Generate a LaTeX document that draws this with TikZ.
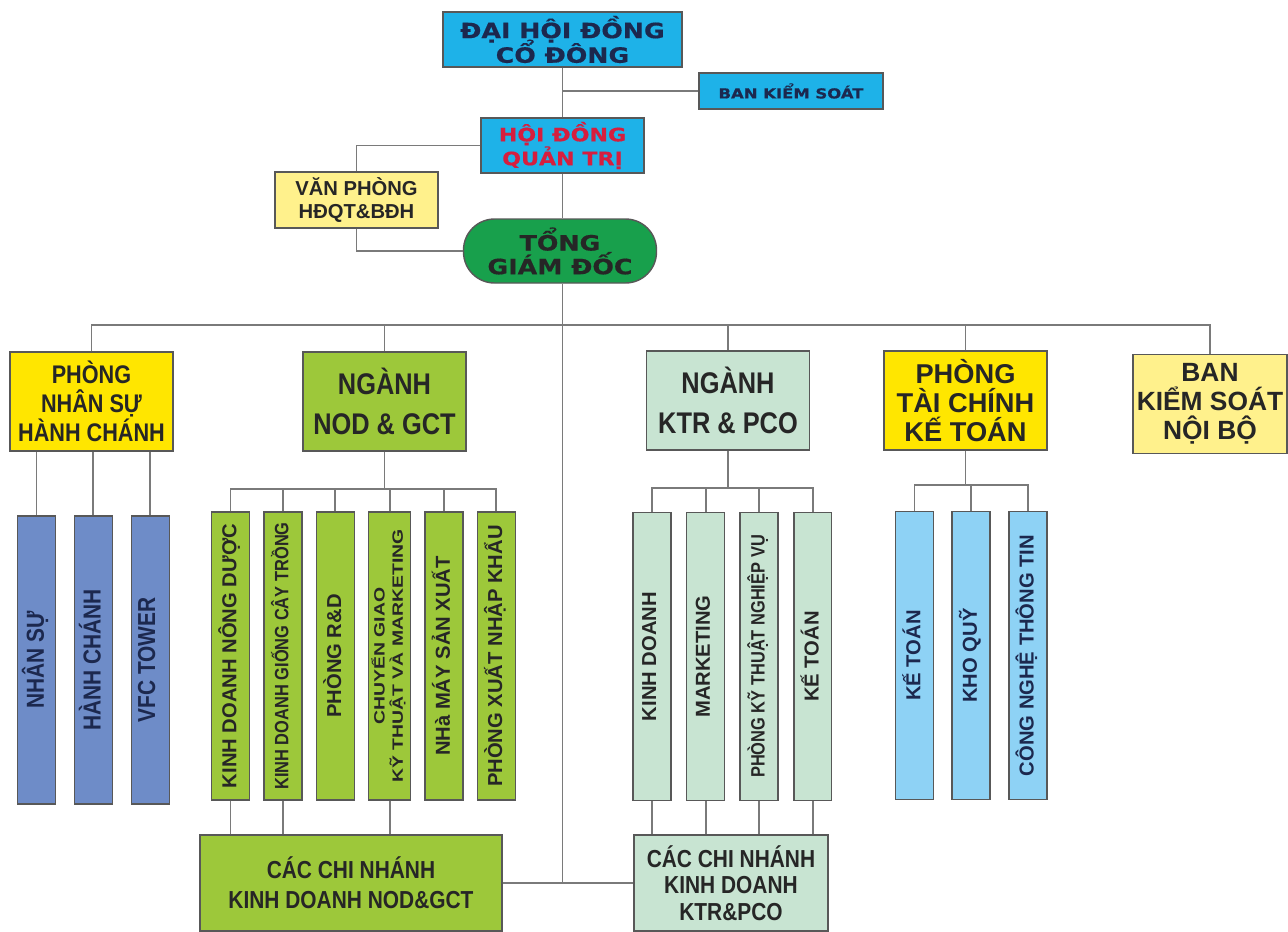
\documentclass[tikz,border=0pt]{standalone}
\usepackage{fontspec}
\usepackage{graphicx}
\setmainfont{Liberation Sans}
\newfontfamily\blackfont{DejaVu Sans}[FakeStretch=1.2, FakeBold=0.6]
\newfontfamily\narrowfont{Liberation Sans}[FakeStretch=0.85]
\newfontfamily\widefont{Liberation Sans}[FakeStretch=1.3]
\usetikzlibrary{
  positioning,  % Function "of" (e.g. [right=of x])
}
\definecolor{linegray}{RGB}{122,122,122}
\definecolor{edgegray}{RGB}{88,88,88}
\definecolor{cyanbox}{RGB}{30,178,232}
\definecolor{tgdgreen}{RGB}{24,160,76}
\definecolor{paleyellow}{RGB}{255,241,140}
\definecolor{brightyellow}{RGB}{255,230,0}
\definecolor{nodgreen}{RGB}{157,200,58}
\definecolor{ktrgreen}{RGB}{200,228,210}
\definecolor{steelblue}{RGB}{110,140,200}
\definecolor{skyblue}{RGB}{142,210,245}
\definecolor{navytext}{RGB}{28,40,78}
\definecolor{redtext}{RGB}{214,30,62}
\newcommand{\vlabel}[1]{\rotatebox{90}{\begin{tabular}{@{}c@{}}#1\end{tabular}}}
\tikzset{
  link/.style={
    draw=linegray,
    line width=1.1pt
  },
  my box/.style={
    draw=edgegray,
    line width=0.8pt,
    align=center,
    inner sep=0.5mm,
    text=black!85
  },
  tight lines/.style={
    execute at begin node={\lineskiplimit=-20pt}  % stacked accents, keep baselines
  },
  my top/.style={
    my box,
    tight lines,
    fill=cyanbox,
    text=navytext
  },
  my dept/.style={
    my box,
    minimum width=3.26cm,
    minimum height=1.98cm,
    font=\narrowfont\bfseries\fontsize{14.5}{16.5}\selectfont
  },
  my kid/.style={
    my box,
    minimum width=0.76cm,
    minimum height=5.76cm,
    font=\bfseries\fontsize{11.5}{12}\selectfont
  },
  my kid narrow/.style={
    my kid,
    font=\narrowfont\bfseries\fontsize{11}{12}\selectfont
  },
  my branch/.style={
    my box,
    minimum height=1.92cm,
    font=\narrowfont\bfseries\fontsize{14}{15}\selectfont
  }
}
\begin{document}
\begin{tikzpicture}[x=0.02cm, y=-0.02cm]
\useasboundingbox (0,0) rectangle (1288,931);
\coordinate (bus)    at (0,325);
\coordinate (nodbus) at (0,489);
\coordinate (ktrbus) at (0,488);
\coordinate (ptcbus) at (0,485);

% board and management
\node[my top, minimum width=4.78cm, minimum height=1.1cm,
      font=\blackfont\bfseries\fontsize{12}{14}\selectfont]   (dhd)  at (562.5,39.5)  {ĐẠI HỘI ĐỒNG\\CỔ ĐÔNG};
\node[my top, minimum width=3.68cm, minimum height=0.72cm,
      font=\blackfont\bfseries\fontsize{7.8}{9}\selectfont]   (bks)  at (791,91)      {BAN KIỂM SOÁT};
\node[my top, minimum width=3.26cm, minimum height=1.1cm, text=redtext,
      font=\blackfont\bfseries\fontsize{10.5}{13.6}\selectfont] (hdqt) at (562.5,145.5) {HỘI ĐỒNG\\QUẢN TRỊ};
\node[my box, fill=paleyellow, minimum width=3.26cm, minimum height=1.12cm,
      font=\bfseries\fontsize{11.5}{13}\selectfont]            (vp)   at (356.5,200)   {VĂN PHÒNG\\HĐQT\&BĐH};
\node[my box, tight lines, fill=tgdgreen, rounded corners=0.62cm, minimum width=3.86cm, minimum height=1.28cm,
      font=\blackfont\bfseries\fontsize{12}{13.5}\selectfont]   (tgd)  at (560,251)     {TỔNG\\GIÁM ĐỐC};

% departments
\node[my dept, fill=brightyellow]                       (pns)   at (91.5,401.5)  {PHÒNG\\NHÂN SỰ\\HÀNH CHÁNH};
\node[my dept, fill=nodgreen,
      font=\narrowfont\bfseries\fontsize{17}{22.5}\selectfont] (nod) at (384.5,401.5) {NGÀNH\\NOD \& GCT};
\node[my dept, fill=ktrgreen,
      font=\narrowfont\bfseries\fontsize{17}{22.5}\selectfont] (ktr) at (728,400.5)   {NGÀNH\\KTR \& PCO};
\node[my dept, fill=brightyellow,
      font=\bfseries\fontsize{15.5}{16.5}\selectfont]   (ptc)   at (965.5,400.5) {PHÒNG\\TÀI CHÍNH\\KẾ TOÁN};
\node[my dept, fill=paleyellow, minimum width=3.08cm,
      font=\bfseries\fontsize{15}{16.5}\selectfont]     (bksnb) at (1210,404)    {BAN\\KIỂM SOÁT\\NỘI BỘ};

% units under each department
\node[my kid, fill=steelblue, text=navytext, font=\narrowfont\bfseries\fontsize{14}{14}\selectfont]
      (pns1) at (36.5,660) {\vlabel{NHÂN SỰ}};
\node[my kid, fill=steelblue, text=navytext, font=\narrowfont\bfseries\fontsize{14}{14}\selectfont,
      right=0.35cm of pns1] (pns2) {\vlabel{HÀNH CHÁNH}};
\node[my kid, fill=steelblue, text=navytext, font=\narrowfont\bfseries\fontsize{14}{14}\selectfont,
      right=0.35cm of pns2] (pns3) {\vlabel{VFC TOWER}};

\node[my kid, fill=nodgreen]                             (nod1) at (230.5,656) {\vlabel{KINH DOANH NÔNG DƯỢC}};
\node[my kid narrow, fill=nodgreen, right=0.26cm of nod1] (nod2) {\vlabel{KINH DOANH GIỐNG CÂY TRỒNG}};
\node[my kid, fill=nodgreen, right=0.26cm of nod2]        (nod3) {\vlabel{PHÒNG R\&D}};
\node[my kid, fill=nodgreen, right=0.26cm of nod3,
      font=\widefont\bfseries\fontsize{8.5}{9.5}\selectfont] (nod4) {\vlabel{CHUYỂN GIAO\\KỸ THUẬT VÀ MARKETING}};
\node[my kid, fill=nodgreen, right=0.26cm of nod4]        (nod5) {\vlabel{NHà MÁY SẢN XUẤT}};
\node[my kid, fill=nodgreen, right=0.26cm of nod5]        (nod6) {\vlabel{PHÒNG XUẤT NHẬP KHẨU}};

\node[my kid, fill=ktrgreen]                             (ktr1) at (652,656.5) {\vlabel{KINH DOANH}};
\node[my kid, fill=ktrgreen, right=0.284cm of ktr1]       (ktr2) {\vlabel{MARKETING}};
\node[my kid narrow, fill=ktrgreen, right=0.284cm of ktr2] (ktr3) {\vlabel{PHÒNG KỸ THUẬT NGHIỆP VỤ}};
\node[my kid, fill=ktrgreen, right=0.284cm of ktr3]       (ktr4) {\vlabel{KẾ TOÁN}};

\node[my kid, fill=skyblue, text=navytext]               (ptc1) at (914.5,655.5) {\vlabel{KẾ TOÁN}};
\node[my kid, fill=skyblue, text=navytext, right=0.345cm of ptc1] (ptc2) {\vlabel{KHO QUỸ}};
\node[my kid, fill=skyblue, text=navytext, right=0.345cm of ptc2] (ptc3) {\vlabel{CÔNG NGHỆ THÔNG TIN}};

% branches
\node[my branch, fill=nodgreen, minimum width=6.04cm,
      font=\narrowfont\bfseries\fontsize{14}{17}\selectfont] (cnnod) at (351,883) {CÁC CHI NHÁNH\\KINH DOANH NOD\&GCT};
\node[my branch, fill=ktrgreen, minimum width=3.88cm]   (cnktr) at (731,883) {CÁC CHI NHÁNH\\KINH DOANH\\KTR\&PCO};

% connectors
\draw[link] (dhd.south) -- (hdqt.north);
\draw[link] (bks.west) -- (bks.west -| dhd.south);
\draw[link] (hdqt.west) -| (vp.north);
\draw[link] (vp.south) |- (tgd.west);
\draw[link] (hdqt.south) -- (hdqt.south |- tgd.north);
\draw[link] (hdqt.south |- tgd.south) -- (hdqt.south |- cnnod.east);
\draw[link] (cnnod.east) -- (cnktr.west);
\draw[link] (pns.north) -- (pns.north |- bus) -- (bksnb.north |- bus) -- (bksnb.north);
\foreach \n in {nod,ktr,ptc}
  \draw[link] (\n.north) -- (\n.north |- bus);
\foreach \i in {1,2,3}
  \draw[link] (pns\i.north) -- (pns\i.north |- pns.south);
\draw[link] (nod.south) -- (nod.south |- nodbus);
\draw[link] (nod1.north) -- (nod1.north |- nodbus) -- (nod6.north |- nodbus) -- (nod6.north);
\foreach \i in {2,...,5}
  \draw[link] (nod\i.north) -- (nod\i.north |- nodbus);
\foreach \i in {1,2,4}
  \draw[link] (nod\i.south) -- (nod\i.south |- cnnod.north);
\draw[link] (ktr.south) -- (ktr.south |- ktrbus);
\draw[link] (ktr1.north) -- (ktr1.north |- ktrbus) -- (ktr4.north |- ktrbus) -- (ktr4.north);
\foreach \i in {2,3}
  \draw[link] (ktr\i.north) -- (ktr\i.north |- ktrbus);
\foreach \i in {1,...,4}
  \draw[link] (ktr\i.south) -- (ktr\i.south |- cnktr.north);
\draw[link] (ptc.south) -- (ptc.south |- ptcbus);
\draw[link] (ptc1.north) -- (ptc1.north |- ptcbus) -- (ptc3.north |- ptcbus) -- (ptc3.north);
\draw[link] (ptc2.north) -- (ptc2.north |- ptcbus);
\end{tikzpicture}
\end{document}
